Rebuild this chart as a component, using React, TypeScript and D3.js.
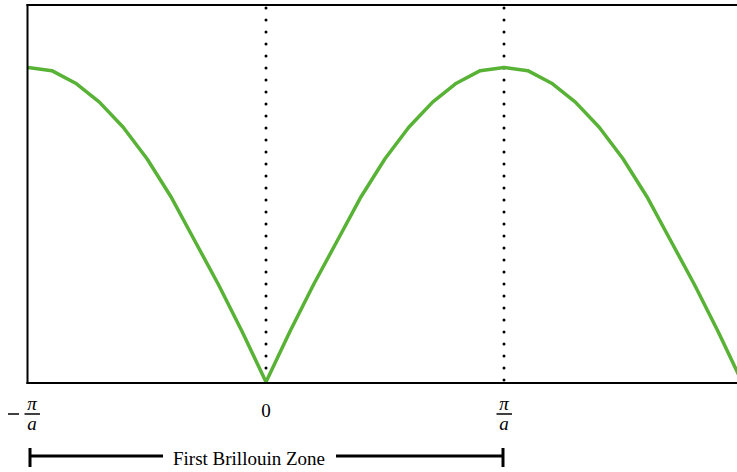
import React from "react";
import * as d3 from "d3";

// Wave number samples, in units of pi/a
const kValues = [
  -1.0, -0.9, -0.8, -0.7, -0.6, -0.5, -0.4, -0.3, -0.2, -0.1,
  0.0, 0.1, 0.2, 0.3, 0.4, 0.5, 0.6, 0.7, 0.8, 0.9,
  1.0, 1.1, 1.2, 1.3, 1.4, 1.5, 1.6, 1.7, 1.8, 1.9, 2.0,
];

// Normalised frequency at each sample
const omegaValues = [
  1.0, 0.99, 0.95, 0.89, 0.81, 0.71, 0.59, 0.45, 0.31, 0.16,
  0.0, 0.16, 0.31, 0.45, 0.59, 0.71, 0.81, 0.89, 0.95, 0.99,
  1.0, 0.99, 0.95, 0.89, 0.81, 0.71, 0.59, 0.45, 0.31, 0.16, 0.0,
];

// Zone boundary markers (units of pi/a)
const zoneMarkers = [0, 1];

const W = 737;
const H = 472;
const left = 28;
const top = 5;
const bottom = 382;
const unit = 238;

const serif = "'Liberation Serif', 'DejaVu Serif', serif";

export default function App() {
  const x = d3.scaleLinear().domain([-1, 2]).range([left, left + 3 * unit]);
  const y = d3.scaleLinear().domain([0, 1.2]).range([bottom, bottom - 1.2 * 314.5]);

  const points: [number, number][] = kValues.map((k, i) => [k, omegaValues[i]]);
  const line = d3
    .line<[number, number]>()
    .x((d) => x(d[0]))
    .y((d) => y(d[1]));

  const fraction = (cx: number, minus: boolean) => (
    <g fontFamily={serif} fontStyle="italic" fontSize={19} textAnchor="middle">
      {minus && (
        <line x1={cx - 24} x2={cx - 13} y1={414} y2={414} stroke="#000" strokeWidth={1.5} />
      )}
      <text x={cx} y={409.5}>π</text>
      <line x1={cx - 7.5} x2={cx + 8} y1={414} y2={414} stroke="#000" strokeWidth={1.5} />
      <text x={cx} y={429.5}>a</text>
    </g>
  );

  const zoneLeft = x(-1) + 2;
  const zoneRight = x(1) - 1;
  const zoneY = 456;

  return (
    <svg
      width={W}
      height={H}
      style={{ position: "absolute", left: 0, top: 0, background: "#fff" }}
    >
      <defs>
        <clipPath id="plot">
          <rect x={left} y={top} width={W - left} height={bottom - top + 2} />
        </clipPath>
      </defs>

      {/* zone boundary dotted guides */}
      {zoneMarkers.map((k) => (
        <line
          key={k}
          x1={x(k)}
          x2={x(k)}
          y1={8}
          y2={bottom}
          stroke="#000"
          strokeWidth={3}
          strokeLinecap="round"
          strokeDasharray="0 12"
        />
      ))}

      {/* dispersion curve */}
      <path
        d={line(points) ?? ""}
        fill="none"
        stroke="#58B236"
        strokeWidth={3.5}
        strokeLinejoin="round"
        clipPath="url(#plot)"
      />

      {/* frame */}
      <line x1={left - 0.5} x2={left - 0.5} y1={top - 1} y2={bottom + 2} stroke="#000" strokeWidth={2} />
      <line x1={left - 1.5} x2={W} y1={top} y2={top} stroke="#000" strokeWidth={2} />
      <line x1={left - 1.5} x2={W} y1={bottom + 1} y2={bottom + 1} stroke="#000" strokeWidth={2} />

      {/* tick labels */}
      {fraction(x(-1) + 4, true)}
      <text x={x(0)} y={417} fontFamily={serif} fontSize={19} textAnchor="middle">0</text>
      {fraction(x(1), false)}

      {/* first Brillouin zone bracket */}
      <line x1={zoneLeft} x2={163} y1={zoneY} y2={zoneY} stroke="#000" strokeWidth={3} />
      <line x1={336} x2={zoneRight} y1={zoneY} y2={zoneY} stroke="#000" strokeWidth={3} />
      <line x1={zoneLeft} x2={zoneLeft} y1={448} y2={467} stroke="#000" strokeWidth={3} />
      <line x1={zoneRight} x2={zoneRight} y1={448} y2={467} stroke="#000" strokeWidth={3} />
      <text
        x={(163 + 336) / 2 - 0.5}
        y={465}
        fontFamily={serif}
        fontSize={19}
        textAnchor="middle"
      >
        First Brillouin Zone
      </text>
    </svg>
  );
}
